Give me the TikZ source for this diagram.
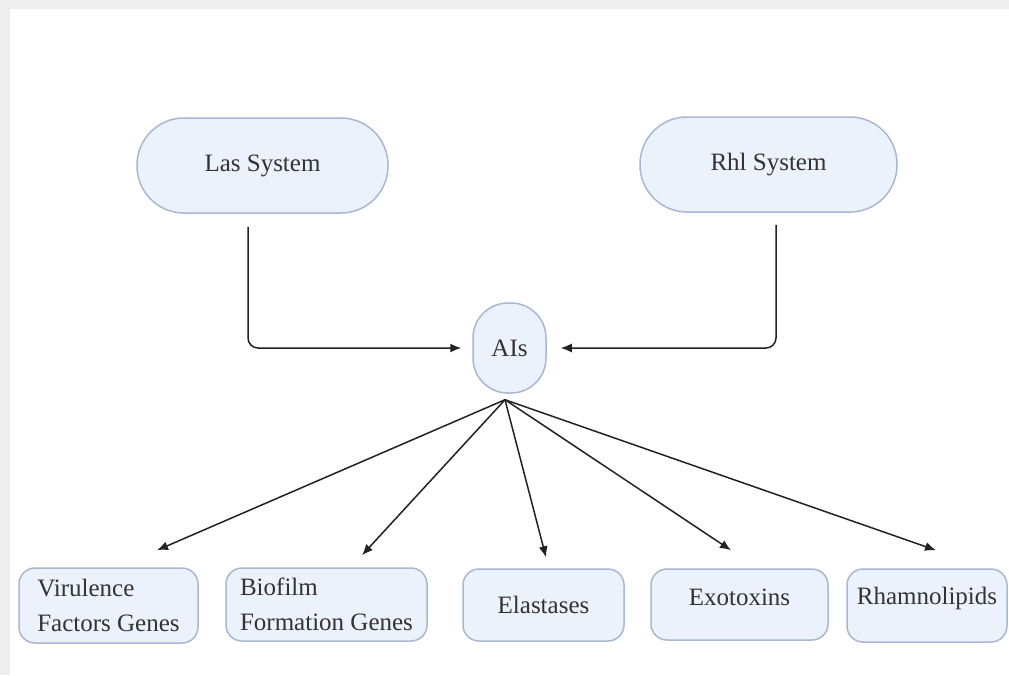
\documentclass[tikz,border=0pt]{standalone}
\usepackage{fontspec}
\newfontfamily\diagfont{LiberationSerif}[Extension=.ttf,UprightFont=*-Regular]
\usetikzlibrary{arrows.meta}
\definecolor{boxfill}{HTML}{EBF2FC}
\definecolor{boxdraw}{HTML}{A9B7D4}
\definecolor{txt}{HTML}{333333}
\definecolor{edge}{HTML}{222222}
\definecolor{frame}{HTML}{EEEEEE}
\begin{document}
\begin{tikzpicture}[x=1pt,y=-1pt,
 base/.style={draw=boxdraw, fill=boxfill, line width=1.5pt, text=txt, font=\diagfont\fontsize{25}{35}\selectfont, inner sep=0pt},
 stadium/.style={base, rounded corners=47pt, minimum width=251pt, minimum height=95pt},
 leaf/.style={base, rounded corners=16pt, minimum height=73pt, align=left},
 conn/.style={draw=edge, line width=1.5pt, -{Latex[length=11pt,width=9pt]}, rounded corners=10pt}]
\fill[white] (0,0) rectangle (1009,675);
\fill[frame] (0,0) rectangle (1009,9);
\fill[frame] (0,0) rectangle (10,675);
\useasboundingbox (0,0) rectangle (1009,675);

\node[stadium] (las) at (262.5,165.5) {Las System};
\node[stadium, minimum width=257pt] (rhl) at (768.5,164.5) {Rhl System};
\node[base, rounded corners=35pt, minimum width=73pt, minimum height=90pt] (ais) at (509.5,348) {AIs};

\node[leaf, minimum width=179pt, minimum height=75pt] (vir) at (108.5,605.5) {Virulence\\Factors Genes};
\node[leaf, minimum width=201pt] (bio) at (326.5,604.5) {Biofilm\\Formation Genes};
\node[leaf, minimum width=161pt, minimum height=72pt] (ela) at (543.5,605) {Elastases};
\node[leaf, minimum width=177pt, minimum height=71pt, text depth=14pt] (exo) at (739.5,604.5) {Exotoxins};
\node[leaf, minimum width=160pt, text depth=19pt] (rha) at (927,605.5) {Rhamnolipids};

\draw[conn] ([xshift=-14.5pt,yshift=-13pt]las.south) |- ([xshift=-11pt]ais.west);
\draw[conn] ([xshift=7.5pt,yshift=-12pt]rhl.south) |- ([xshift=14pt]ais.east);

\coordinate (hub) at ([xshift=-4.5pt,yshift=-6pt]ais.south);
\draw[conn] (hub) -- ([xshift=48.5pt,yshift=17pt]vir.north);
\draw[conn] (hub) -- ([xshift=35.5pt,yshift=12pt]bio.north);
\draw[conn] (hub) -- ([xshift=2.5pt,yshift=11pt]ela.north);
\draw[conn] (hub) -- ([xshift=-8.5pt,yshift=18pt]exo.north);
\draw[conn] (hub) -- ([xshift=9pt,yshift=18pt]rha.north);
\end{tikzpicture}
\end{document}
